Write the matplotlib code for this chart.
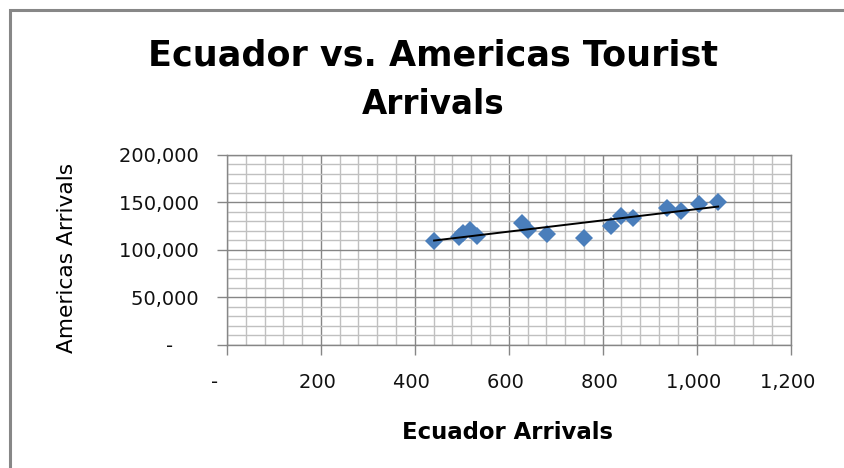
import matplotlib
matplotlib.use("Agg")
import matplotlib.pyplot as plt
import numpy as np
from matplotlib.ticker import MultipleLocator, FixedLocator
from matplotlib.patches import Rectangle

# Data
ecuador = [441, 493, 503, 517, 532, 628, 642, 681, 761, 817, 840, 864, 936, 967, 1005, 1046]
americas = [109300, 113800, 117400, 121200, 114500, 127900, 120500, 116300, 112100, 124700,
            136000, 133100, 143600, 140600, 148200, 149800]

x_ticks = [0, 200, 400, 600, 800, 1000, 1200]
x_labels = ["-    ", "200 ", "400 ", "600 ", "800 ", "1,000 ", "1,200 "]
y_ticks = [0, 50000, 100000, 150000, 200000]
y_labels = ["-     ", "50,000 ", "100,000 ", "150,000 ", "200,000 "]

title_text = "Ecuador vs. Americas Tourist\nArrivals"
xlabel_text = "Ecuador Arrivals"
ylabel_text = "Americas Arrivals"

W, H = 845, 468
fig = plt.figure(figsize=(W / 100, H / 100), dpi=100)
fig.patch.set_facecolor("white")

# outer chart border
fig.add_artist(Rectangle((10 / W, -0.05), 1.0, 1 - 10 / H + 0.05, transform=fig.transFigure,
                         fill=False, edgecolor="#878787", linewidth=2.2))

ax = fig.add_axes([227 / W, 1 - 345 / H, (790.5 - 227) / W, (345 - 154.7) / H])
ax.set_xlim(0, 1200)
ax.set_ylim(0, 200000)

major_c = "#868686"
minor_c = "#c0c0c0"
ax.xaxis.set_minor_locator(MultipleLocator(40))
ax.yaxis.set_minor_locator(MultipleLocator(10000))
ax.grid(which="minor", color=minor_c, linewidth=1.0)
ax.grid(which="major", color=major_c, linewidth=1.0)
ax.set_axisbelow(True)
for s in ax.spines.values():
    s.set_color(major_c)
    s.set_linewidth(1.0)

ax.xaxis.set_major_locator(FixedLocator(x_ticks))
ax.set_xticklabels(x_labels)
ax.yaxis.set_major_locator(FixedLocator(y_ticks))
ax.set_yticklabels(y_labels)
ax.tick_params(which="major", length=7, width=1, color=major_c, labelsize=14, pad=13)
ax.tick_params(axis="y", pad=9)
ax.tick_params(which="minor", length=0)
for lab in ax.get_xticklabels() + ax.get_yticklabels():
    lab.set_fontfamily("DejaVu Sans")
    lab.set_color("#111111")

ax.plot(ecuador, americas, linestyle="none", marker="D", markersize=9,
        markerfacecolor="#4A7EBB", markeredgewidth=0, zorder=3)

coef = np.polyfit(ecuador, americas, 1)
xs = np.array([min(ecuador), max(ecuador)])
ax.plot(xs, np.polyval(coef, xs), color="black", linewidth=1.4, zorder=4)

renderer = fig.canvas.get_renderer()

def fit_text(x, y, s, target_w, **kw):
    t = fig.text(x / W, 1 - y / H, s, **kw)
    for _ in range(3):
        bb = t.get_window_extent(renderer)
        wdt = bb.height if kw.get("rotation", 0) == 90 else bb.width
        t.set_fontsize(t.get_fontsize() * target_w / wdt)
    return t

fit_text(433, 66, "Ecuador vs. Americas Tourist", 570, fontsize=24, fontweight="bold",
         family="DejaVu Sans", ha="center", va="baseline", color="black")
fit_text(433, 114, "Arrivals", 143, fontsize=24, fontweight="bold",
         family="DejaVu Sans", ha="center", va="baseline", color="black")
fit_text(508, 439, xlabel_text, 211, fontsize=15, fontweight="bold",
         family="DejaVu Sans", ha="center", va="baseline", color="black")
fit_text(67, 258, ylabel_text, 190, fontsize=15, fontweight="normal",
         family="DejaVu Sans", ha="center", va="center", rotation=90, color="black")

fig.savefig("out.png", dpi=100, facecolor="white")
